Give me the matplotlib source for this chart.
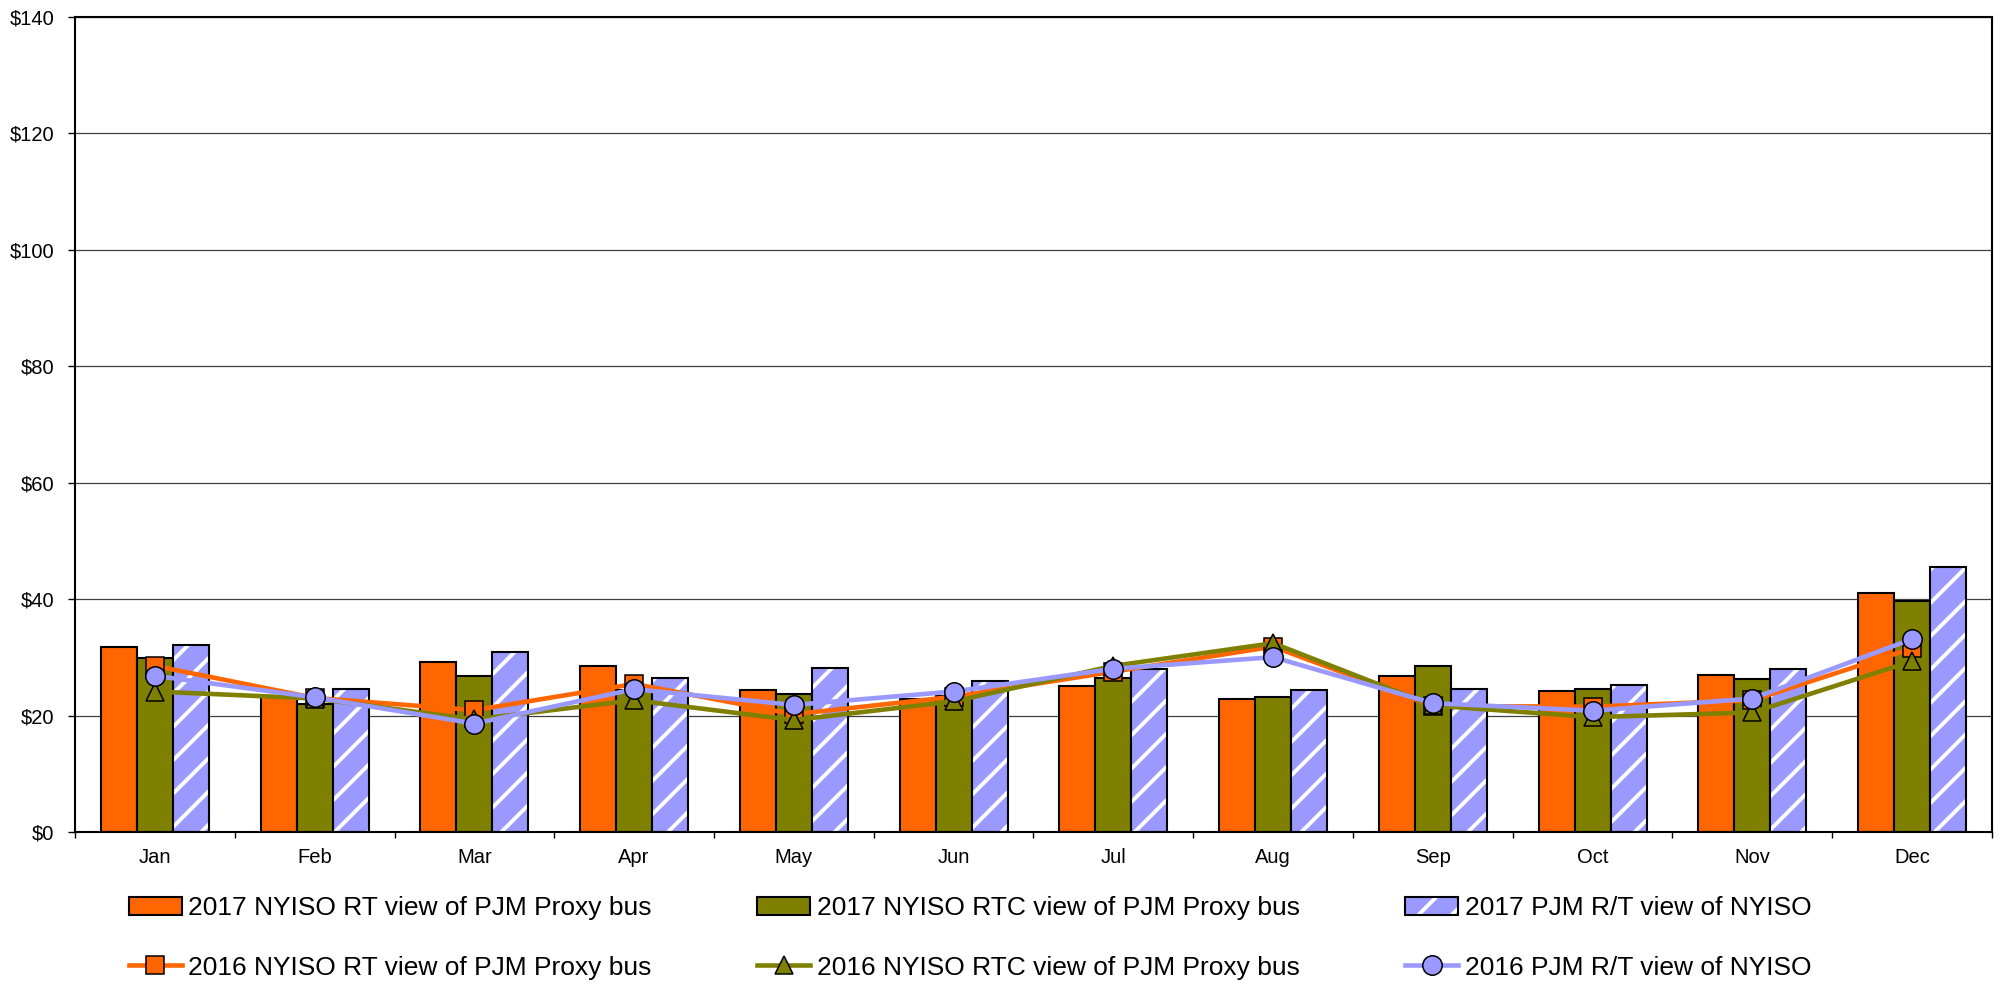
import numpy as np
import matplotlib
matplotlib.use('Agg')
import matplotlib.pyplot as plt
from matplotlib.patches import Patch
from matplotlib.lines import Line2D
from matplotlib.ticker import FuncFormatter, MultipleLocator

months = ['Jan', 'Feb', 'Mar', 'Apr', 'May', 'Jun', 'Jul', 'Aug', 'Sep', 'Oct', 'Nov', 'Dec']

# 2017 bars
rt_2017 = [31.9, 23.5, 29.3, 28.6, 24.4, 23.0, 25.2, 23.0, 26.9, 24.3, 27.0, 41.1]
rtc_2017 = [29.9, 22.1, 26.9, 24.5, 23.7, 23.4, 26.5, 23.3, 28.6, 24.6, 26.4, 39.7]
pjm_2017 = [32.1, 24.6, 31.0, 26.6, 28.2, 26.0, 28.1, 24.5, 24.7, 25.3, 28.0, 45.5]

# 2016 lines
rt_2016 = [28.6, 23.1, 21.0, 25.5, 20.3, 23.3, 27.6, 31.9, 21.7, 21.6, 22.7, 31.6]
rtc_2016 = [24.2, 23.0, 19.4, 22.7, 19.3, 22.5, 28.6, 32.5, 21.8, 19.8, 20.6, 29.4]
pjm_2016 = [26.9, 23.2, 18.7, 24.6, 21.9, 24.2, 28.1, 30.1, 22.2, 20.9, 23.0, 33.2]

labels_bar = ['2017 NYISO RT view of PJM Proxy bus',
              '2017 NYISO RTC view of PJM Proxy bus',
              '2017 PJM R/T view of NYISO']
labels_line = ['2016 NYISO RT view of PJM Proxy bus',
               '2016 NYISO RTC view of PJM Proxy bus',
               '2016 PJM R/T view of NYISO']

orange = '#FF6600'
olive = '#808000'
lilac = '#9999FF'

plt.rcParams['font.family'] = ['Liberation Sans', 'DejaVu Sans']
plt.rcParams['hatch.linewidth'] = 2.8

fig = plt.figure(figsize=(20.06, 9.86), dpi=100)
ax = fig.add_axes([0.0374, 0.1557, 0.9556, 0.8271])

x = np.arange(len(months))
w = 0.225

ax.bar(x - w, rt_2017, w, color=orange, edgecolor='black', linewidth=1.5, zorder=2)
ax.bar(x, rtc_2017, w, color=olive, edgecolor='black', linewidth=1.5, zorder=2)
# hatched bars: white stripes, then black outline on top
ax.bar(x + w, pjm_2017, w, color=lilac, edgecolor='white', hatch='/', linewidth=0, zorder=2)
ax.bar(x + w, pjm_2017, w, fill=False, edgecolor='black', linewidth=1.5, zorder=2)

ax.plot(x, rt_2016, color=orange, lw=3.3, marker='s', ms=13, mfc=orange, mec='black', mew=1.1, zorder=3)
ax.plot(x, rtc_2016, color=olive, lw=3.3, marker='^', ms=13, mfc=olive, mec='black', mew=1.1, zorder=3)
ax.plot(x, pjm_2016, color=lilac, lw=3.3, marker='o', ms=14, mfc=lilac, mec='black', mew=1.1, zorder=3)

ax.set_xlim(-0.5, 11.5)
ax.set_ylim(0, 140)
ax.yaxis.set_major_locator(MultipleLocator(20))
ax.yaxis.set_major_formatter(FuncFormatter(lambda v, p: '$%d' % v))
ax.grid(axis='y', color='#404040', linewidth=0.9, zorder=0)
ax.set_axisbelow(True)

ax.set_xticks(x)
ax.set_xticklabels(months)
ax.set_xticks(np.arange(-0.5, 12, 1), minor=True)
ax.tick_params(axis='x', which='major', length=0, pad=11, labelsize=14.5)
ax.tick_params(axis='x', which='minor', length=4, width=1, direction='out')
ax.tick_params(axis='y', length=5, width=1, pad=10, labelsize=14.5)

for s in ax.spines.values():
    s.set_linewidth(1.5)

h_bars = [Patch(facecolor=orange, edgecolor='black', linewidth=1.5),
          Patch(facecolor=olive, edgecolor='black', linewidth=1.5),
          (Patch(facecolor=lilac, edgecolor='white', hatch='/', linewidth=0),
           Patch(fill=False, edgecolor='black', linewidth=1.5))]
h_lines = [Line2D([], [], color=orange, lw=3.3, marker='s', ms=13, mfc=orange, mec='black', mew=1.1),
           Line2D([], [], color=olive, lw=3.3, marker='^', ms=13, mfc=olive, mec='black', mew=1.1),
           Line2D([], [], color=lilac, lw=3.3, marker='o', ms=14, mfc=lilac, mec='black', mew=1.1)]

handles, labels = [], []
for i in range(3):
    handles += [h_bars[i], h_lines[i]]
    labels += [labels_bar[i], labels_line[i]]

fig.legend(handles, labels, ncol=3, loc='upper left', bbox_to_anchor=(129 / 2006, 1 - 896 / 986),
           frameon=False, fontsize=19, borderpad=0, borderaxespad=0, handlelength=2.0,
           handletextpad=0.25, columnspacing=4.0, labelspacing=1.35, numpoints=1)

fig.savefig('out.png', dpi=100)
